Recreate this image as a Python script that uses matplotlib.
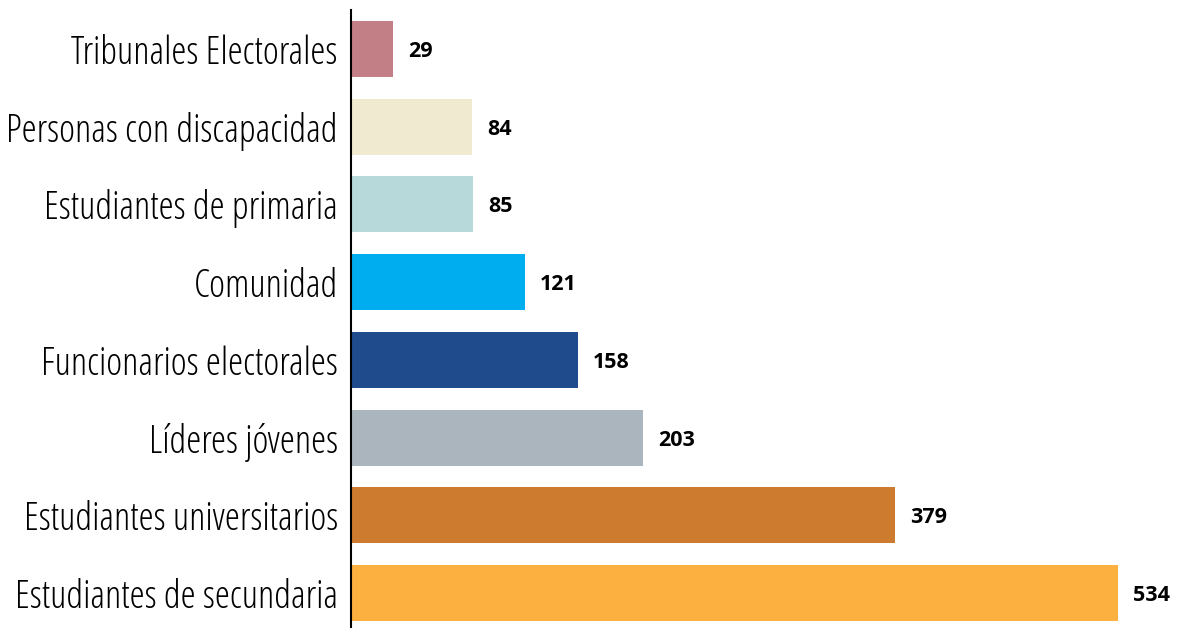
import matplotlib
matplotlib.use("Agg")
from matplotlib import pyplot as plt

categorias = ["Tribunales Electorales", "Personas con discapacidad", "Estudiantes de primaria",
              "Comunidad", "Funcionarios electorales", "Líderes jóvenes",
              "Estudiantes universitarios", "Estudiantes de secundaria"]
valores = [29, 84, 85, 121, 158, 203, 379, 534]
colores = ["#C27F86", "#F0EAD0", "#B8D9DA", "#00AEEF", "#1F4A8C", "#AAB5BD", "#CD7B2E", "#FBB040"]

fig = plt.figure(figsize=(11.8, 6.28), dpi=100)
ax = fig.add_axes([351/1180, 0, 829/1180, 618/628])

pos = list(range(len(valores)))
ax.barh(pos, valores, height=0.72, color=colores)
ax.set_xlim(0, 577.3)
ax.set_ylim(7.45, -0.502)

for p, v in zip(pos, valores):
    ax.annotate(str(v), (v, p), xytext=(11, 0), textcoords="offset points",
                va="center_baseline", ha="left", fontsize=15.5, fontweight="bold",
                fontstretch="normal", family=["Open Sans", "DejaVu Sans"])

ax.set_yticks(pos)
ax.set_yticklabels(categorias, fontsize=27.5, fontstretch="condensed",
                   family=["Open Sans", "DejaVu Sans"])
ax.tick_params(axis="y", length=0, pad=9.5)
ax.set_xticks([])
for s in ["top", "right", "bottom"]:
    ax.spines[s].set_visible(False)
ax.spines["left"].set_linewidth(1.5)
ax.spines["left"].set_color("black")

fig.savefig("out.png", dpi=100)
